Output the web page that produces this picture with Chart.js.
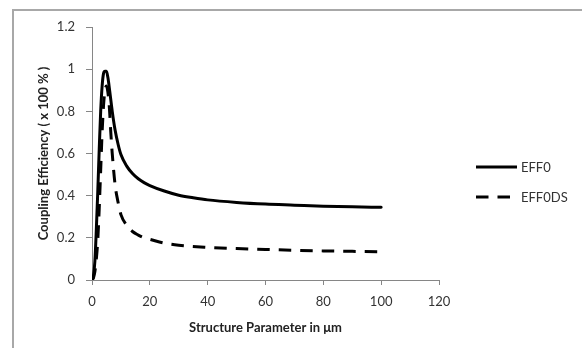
<!DOCTYPE html>
<html>
<head>
<meta charset="utf-8">
<script src="https://cdn.jsdelivr.net/npm/chart.js@4/dist/chart.umd.min.js"></script>
<style>
  html, body { margin: 0; padding: 0; background: #fff; overflow: hidden; }
  #wrap { position: relative; width: 582px; height: 348px; }
  #frame { position: absolute; left: 12px; top: 9px; width: 600px; height: 400px;
           border-left: 2px solid #a8a8a8; border-top: 2px solid #a8a8a8; box-sizing: border-box; pointer-events: none; }
  canvas { position: absolute; left: 0; top: 0; }
</style>
</head>
<body>
<div id="wrap">
  <canvas id="c" width="582" height="348"></canvas>
  <div id="frame"></div>
</div>
<script>
// ---- data ----
const seriesNames = ['EFF0', 'EFF0DS'];

const eff0X = [0, 0.5, 1, 1.5, 2, 2.5, 3, 3.5, 4, 4.5, 5, 5.5, 6, 7, 8, 9, 10, 12, 14, 16, 18, 20, 25, 30, 35, 40, 50, 60, 70, 80, 90, 100];
const eff0Y = [0, 0.02, 0.09, 0.24, 0.42, 0.62, 0.80, 0.92, 0.98, 0.99, 0.99, 0.96, 0.91, 0.80, 0.71, 0.645, 0.595, 0.54, 0.505, 0.48, 0.462, 0.448, 0.422, 0.402, 0.39, 0.38, 0.368, 0.36, 0.355, 0.35, 0.347, 0.345];

const eff0dsX = [0, 0.5, 1, 1.5, 2, 2.5, 3, 3.5, 4, 4.5, 5, 5.5, 6, 6.5, 7, 8, 9, 10, 12, 14, 16, 18, 20, 25, 30, 40, 50, 60, 70, 80, 90, 100];
const eff0dsY = [0, 0.01, 0.04, 0.10, 0.19, 0.34, 0.52, 0.70, 0.83, 0.90, 0.92, 0.89, 0.82, 0.70, 0.60, 0.45, 0.37, 0.31, 0.26, 0.23, 0.213, 0.20, 0.193, 0.175, 0.165, 0.155, 0.149, 0.145, 0.141, 0.138, 0.136, 0.134];

const xTickLabels = ['0', '20', '40', '60', '80', '100', '120'];
const yTickLabels = ['0', '0.2', '0.4', '0.6', '0.8', '1', '1.2'];

const xTitle = 'Structure Parameter in \u03bcm';
const yTitle = 'Coupling Efficiency ( x 100 % )';

// ---- build ----
const toPts = (xs, ys) => xs.map((x, i) => ({ x: x, y: ys[i] }));
const FONT = "Lato, 'Open Sans', 'DejaVu Sans', sans-serif";

const sidePlugin = {
  id: 'sideLegend',
  afterDraw(chart) {
    const ctx = chart.ctx;
    // y-axis title, centred on the plot height
    const ys = chart.scales.y;
    ctx.save();
    ctx.translate(44, (ys.top + ys.bottom) / 2);
    ctx.rotate(-Math.PI / 2);
    ctx.fillStyle = '#222';
    ctx.font = "bold 13px " + FONT;
    ctx.textAlign = 'center';
    ctx.textBaseline = 'middle';
    ctx.fillText(yTitle, 0, 0);
    ctx.restore();
    // legend
    const rows = [167, 197];
    chart.data.datasets.forEach((ds, i) => {
      const y = rows[i];
      ctx.save();
      ctx.strokeStyle = ds.borderColor;
      ctx.lineWidth = ds.borderWidth;
      ctx.lineCap = 'butt';
      ctx.setLineDash(ds.borderDash || []);
      ctx.beginPath();
      ctx.moveTo(476, y);
      ctx.lineTo(517, y);
      ctx.stroke();
      ctx.setLineDash([]);
      ctx.fillStyle = '#333';
      ctx.font = "13px " + FONT;
      ctx.textBaseline = 'middle';
      ctx.textAlign = 'left';
      ctx.fillText(ds.label, 521, y + 1);
      ctx.restore();
    });
  }
};

new Chart(document.getElementById('c'), {
  type: 'scatter',
  data: {
    datasets: [
      { label: seriesNames[0], data: toPts(eff0X, eff0Y), showLine: true, borderColor: '#000', backgroundColor: '#000',
        borderWidth: 3, pointRadius: 0, cubicInterpolationMode: 'monotone', borderCapStyle: 'round' },
      { label: seriesNames[1], data: toPts(eff0dsX, eff0dsY), showLine: true, borderColor: '#000', backgroundColor: '#000',
        borderWidth: 3, borderDash: [12.5, 9], pointRadius: 0, cubicInterpolationMode: 'monotone', borderCapStyle: 'butt' }
    ]
  },
  options: {
    responsive: false,
    devicePixelRatio: 1,
    animation: false,
    layout: { padding: { left: 30, right: 143, top: 27, bottom: 0 } },
    plugins: { legend: { display: false }, tooltip: { enabled: false } },
    scales: {
      x: {
        type: 'linear', min: 0, max: 120,
        afterBuildTicks(s) { s.ticks = xTickLabels.map(t => ({ value: parseFloat(t) })); },
        afterFit(s) { s.height = 68; },
        ticks: { callback: (v, i) => xTickLabels[i], color: '#333', padding: 9,
                 font: { family: FONT, size: 13 }, maxRotation: 0 },
        grid: { drawOnChartArea: false, drawTicks: true, tickLength: 5, color: '#868686' },
        border: { color: '#868686', width: 1 },
        title: { display: true, text: xTitle, color: '#222', font: { family: FONT, size: 13, weight: 'bold' },
                 padding: { top: 0, bottom: 12 } }
      },
      y: {
        type: 'linear', min: 0, max: 1.2,
        afterBuildTicks(s) { s.ticks = yTickLabels.map(t => ({ value: parseFloat(t) })); },
        afterFit(s) { s.width = 62; },
        ticks: { callback: (v, i) => yTickLabels[i], color: '#333', padding: 11,
                 font: { family: FONT, size: 13 } },
        grid: { drawOnChartArea: false, drawTicks: true, tickLength: 6, color: '#868686' },
        border: { color: '#868686', width: 1 },
        title: { display: false }
      }
    }
  },
  plugins: [sidePlugin]
});
</script>
</body>
</html>
